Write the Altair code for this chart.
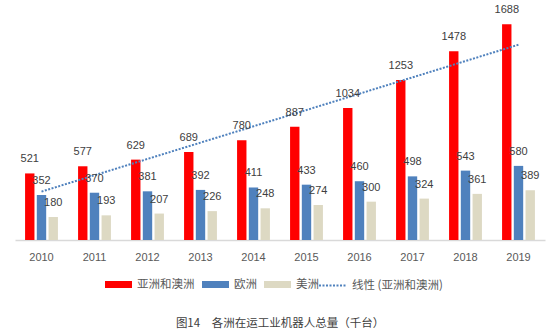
import altair as alt
import pandas as pd

years = ["2010", "2011", "2012", "2013", "2014", "2015", "2016", "2017", "2018", "2019"]
asia = [521, 577, 629, 689, 780, 887, 1034, 1253, 1478, 1688]
europe = [352, 370, 381, 392, 411, 433, 460, 498, 543, 580]
america = [180, 193, 207, 226, 248, 274, 300, 324, 361, 389]

series_names = ["亚洲和澳洲", "欧洲", "美洲"]
trend_name = "线性 (亚洲和澳洲)"
colors = ["#FF0000", "#4F81BD", "#DDD9C3"]
trend_color = "#4F81BD"
caption = "图14\u3000各洲在运工业机器人总量（千台）"

rows = []
for name, vals in zip(series_names, [asia, europe, america]):
    for y, v in zip(years, vals):
        rows.append({"year": y, "series": name, "value": v})
df = pd.DataFrame(rows)

legend_common = dict(
    title=None, orient="none", direction="horizontal", padding=0, legendY=261,
    symbolSize=729, labelFont="Noto Sans CJK SC", labelFontSize=11.5,
    labelColor="#595959", labelOffset=5, columnPadding=7, symbolOpacity=1,
)

x_enc = alt.X("year:N", sort=years,
              scale=alt.Scale(paddingInner=0.38, paddingOuter=0.19),
              axis=alt.Axis(title=None, labelAngle=0, ticks=False, domainColor="#D9D9D9",
                            domainWidth=1.5, labelPadding=11, labelFontSize=11,
                            labelFont="Liberation Sans", labelColor="#595959"))
y_enc = alt.Y("value:Q", scale=alt.Scale(domain=[0, 1800]), axis=None)
xoff = alt.XOffset("series:N", sort=series_names,
                   scale=alt.Scale(paddingInner=0.2, paddingOuter=0))

bars = alt.Chart(df).mark_bar().encode(
    x=x_enc, y=y_enc, xOffset=xoff,
    color=alt.Color("series:N", sort=series_names,
                    scale=alt.Scale(domain=series_names, range=colors),
                    legend=alt.Legend(symbolType="M-1,-0.26H1V0.26H-1Z", legendX=90,
                                      symbolStrokeWidth=0, **legend_common)),
)

# least-squares linear trend of the first series, computed with transforms
trend = alt.Chart(df).transform_filter(
    alt.datum.series == series_names[0]
).transform_calculate(
    xn="toNumber(datum.year)",
    trend=f"'{trend_name}'",
).transform_joinaggregate(
    mx="mean(xn)", my="mean(value)"
).transform_calculate(
    sxy="(datum.xn - datum.mx) * (datum.value - datum.my)",
    sxx="(datum.xn - datum.mx) * (datum.xn - datum.mx)",
).transform_joinaggregate(
    Sxy="sum(sxy)", Sxx="sum(sxx)"
).transform_calculate(
    fit="datum.my + datum.Sxy / datum.Sxx * (datum.xn - datum.mx)"
).mark_line(color=trend_color, strokeWidth=2).encode(
    x=alt.X("year:N", sort=years), y=alt.Y("fit:Q"),
    strokeDash=alt.StrokeDash(
        "trend:N",
        scale=alt.Scale(domain=[trend_name], range=[[2, 1.5]]),
        legend=alt.Legend(symbolType="stroke", symbolStrokeColor=trend_color, legendX=303,
                          symbolStrokeWidth=2, **legend_common),
    ),
)

labels = alt.Chart(df).mark_text(
    baseline="middle", dy=-14, fontSize=11, font="Liberation Sans", color="#404040"
).encode(
    x=alt.X("year:N", sort=years), y=alt.Y("value:Q"),
    xOffset=alt.XOffset("series:N", sort=series_names),
    text=alt.Text("value:Q"),
)

chart = alt.layer(bars, trend, labels).properties(
    width=530, height=230,
    autosize=alt.AutoSizeParams(type="none"),
    padding={"left": 15, "top": 10, "right": 5, "bottom": 93},
    background="white",
    title=alt.TitleParams(caption, orient="bottom", anchor="middle", offset=27,
                          font="Noto Sans CJK SC", fontSize=11.5, fontWeight="normal",
                          color="#404040"),
).configure_view(stroke=None)

chart.save("out.html", embed_options={"renderer": "svg", "actions": False})
